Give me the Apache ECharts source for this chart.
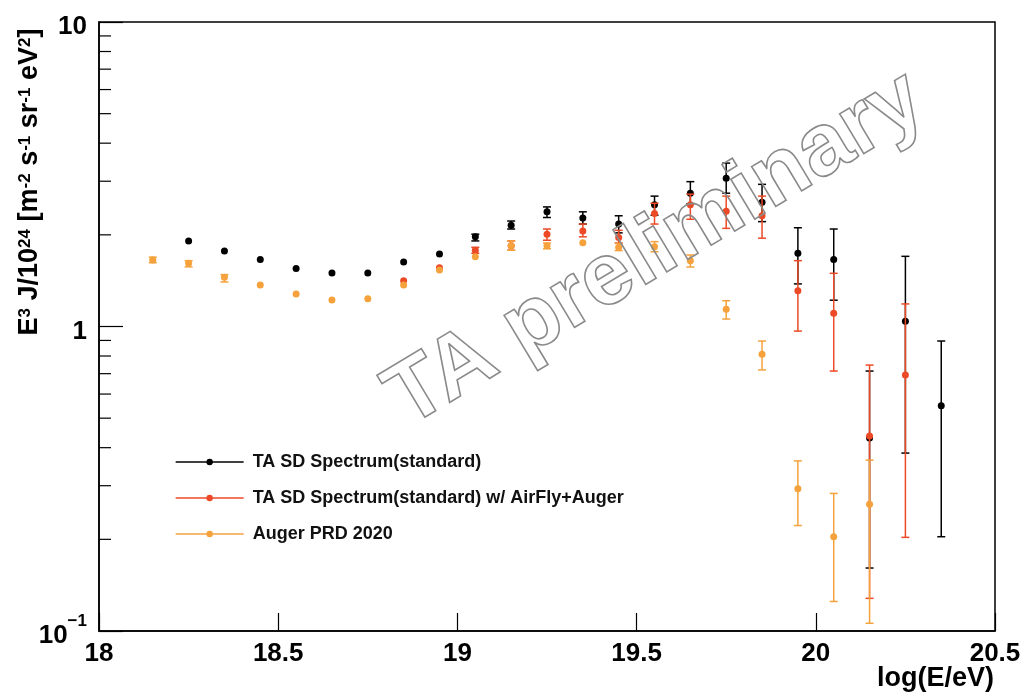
<!DOCTYPE html>
<html>
<head>
<meta charset="utf-8">
<style>
  html, body { margin: 0; padding: 0; background: #fff; }
  #chart { width: 1024px; height: 693px; }
</style>
<script src="https://cdn.jsdelivr.net/npm/echarts@6/dist/echarts.min.js"></script>
</head>
<body>
<div id="chart"></div>
<script>
// TA SD spectrum (standard energy scale)
const taX  = [18.25, 18.35, 18.45, 18.55, 18.65, 18.75, 18.85, 18.95, 19.05, 19.15, 19.25,
              19.35, 19.45, 19.55, 19.65, 19.75, 19.85, 19.95, 20.05, 20.15, 20.25, 20.35];
const taY  = [1.91, 1.77, 1.66, 1.55, 1.50, 1.50, 1.63, 1.73, 1.97, 2.15, 2.38,
              2.27, 2.17, 2.51, 2.74, 3.07, 2.56, 1.74, 1.66, 0.43, 1.04, 0.549];
const taLo = [1.90, 1.76, 1.65, 1.54, 1.49, 1.49, 1.62, 1.72, 1.91, 2.09, 2.28,
              2.17, 2.03, 2.32, 2.53, 2.74, 2.21, 1.38, 1.22, 0.161, 0.384, 0.204];
const taHi = [1.92, 1.78, 1.67, 1.56, 1.51, 1.51, 1.64, 1.74, 2.01, 2.22, 2.47,
              2.38, 2.31, 2.68, 2.99, 3.44, 2.93, 2.11, 2.09, 0.714, 1.70, 0.896];

// TA SD spectrum rescaled with AirFly yield + Auger invisible energy
const afX  = [18.85, 18.95, 19.05, 19.15, 19.25, 19.35, 19.45, 19.55, 19.65, 19.75,
              19.85, 19.95, 20.05, 20.15, 20.25];
const afY  = [1.414, 1.56, 1.78, 1.84, 2.01, 2.06, 1.96, 2.35, 2.51, 2.39,
              2.31, 1.31, 1.105, 0.437, 0.693];
const afLo = [1.40, 1.54, 1.74, 1.78, 1.92, 1.97, 1.88, 2.17, 2.25, 2.10,
              1.95, 0.966, 0.714, 0.128, 0.203];
const afHi = [1.43, 1.58, 1.82, 1.91, 2.09, 2.17, 2.07, 2.54, 2.72, 2.68,
              2.68, 1.645, 1.495, 0.747, 1.186];

// Auger PRD 2020
const auX  = [18.15, 18.25, 18.35, 18.45, 18.55, 18.65, 18.75, 18.85, 18.95, 19.05, 19.15,
              19.25, 19.35, 19.45, 19.55, 19.65, 19.75, 19.85, 19.95, 20.05, 20.15];
const auY  = [1.654, 1.613, 1.45, 1.369, 1.278, 1.222, 1.234, 1.369, 1.533, 1.695, 1.84,
              1.84, 1.885, 1.82, 1.828, 1.645, 1.139, 0.81, 0.293, 0.204, 0.261];
const auLo = [1.62, 1.57, 1.40, 1.355, 1.265, 1.21, 1.22, 1.355, 1.515, 1.67, 1.78,
              1.80, 1.86, 1.775, 1.76, 1.568, 1.058, 0.72, 0.222, 0.125, 0.106];
const auHi = [1.69, 1.645, 1.48, 1.383, 1.29, 1.234, 1.248, 1.383, 1.55, 1.72, 1.91,
              1.88, 1.91, 1.875, 1.90, 1.717, 1.215, 0.896, 0.362, 0.283, 0.364];

const seriesNames = ['TA SD Spectrum(standard)', 'TA SD Spectrum(standard) w/ AirFly+Auger', 'Auger PRD 2020'];
const seriesColors = ['#000000', '#ec4a26', '#f5a23c'];

// log-axis minor tick positions
const yMinorTicks = [0.2, 0.3, 0.4, 0.5, 0.6, 0.7, 0.8, 0.9, 2, 3, 4, 5, 6, 7, 8, 9];

const FONT = '"Liberation Sans", Arial, Helvetica, sans-serif';
const MARKER = 7;

function points(xs, ys) { return xs.map((x, i) => [x, ys[i]]); }
function bars(xs, lo, hi) { return xs.map((x, i) => [x, lo[i], hi[i]]); }

// Vertical error bar with end caps; bars hidden inside the marker are skipped.
function errorBarRender(color) {
  return function (params, api) {
    const x = api.value(0);
    const top = api.coord([x, api.value(2)]);
    const bot = api.coord([x, api.value(1)]);
    if (bot[1] - top[1] < 4) return null;
    const cap = 4;
    const st = { stroke: color, lineWidth: 1.5 };
    return {
      type: 'group',
      children: [
        { type: 'line', shape: { x1: top[0], y1: top[1], x2: bot[0], y2: bot[1] }, style: st },
        { type: 'line', shape: { x1: top[0] - cap, y1: top[1], x2: top[0] + cap, y2: top[1] }, style: st },
        { type: 'line', shape: { x1: bot[0] - cap, y1: bot[1], x2: bot[0] + cap, y2: bot[1] }, style: st }
      ]
    };
  };
}

function errSeries(xs, lo, hi, color, z) {
  return {
    type: 'custom', z: z, silent: true,
    renderItem: errorBarRender(color),
    encode: { x: 0, y: [1, 2] },
    data: bars(xs, lo, hi)
  };
}

function pointSeries(name, xs, ys, color, z) {
  return {
    name: name, type: 'line', z: z,
    data: points(xs, ys),
    symbol: 'circle', symbolSize: MARKER, showSymbol: true,
    itemStyle: { color: color },
    lineStyle: { color: color, opacity: 0, width: 0 },
    animation: false
  };
}

const chart = echarts.init(document.getElementById('chart'), null, { renderer: 'canvas' });

const option = {
  animation: false,
  backgroundColor: '#ffffff',
  grid: {
    left: 99, right: 29, top: 22, bottom: 62,
    containLabel: false, outerBoundsMode: 'none',
    show: true, borderColor: '#000', borderWidth: 1.5, backgroundColor: 'transparent'
  },
  legend: {
    orient: 'vertical', left: 170, top: 448, itemGap: 18,
    itemWidth: 68, itemHeight: 8,
    data: seriesNames,
    lineStyle: { opacity: 1, width: 1.3 },
    textStyle: { fontFamily: FONT, fontWeight: 'bold', fontSize: 18, color: '#111', padding: [0, 0, 0, 4] }
  },
  xAxis: {
    type: 'value', min: 18, max: 20.5, interval: 0.5,
    axisLine: { show: true, lineStyle: { color: '#000', width: 1.5 } },
    axisTick: { show: true, inside: true, length: 18, lineStyle: { color: '#000', width: 1.2 } },
    splitLine: { show: false },
    axisLabel: {
      fontFamily: FONT, fontWeight: 'bold', fontSize: 26, color: '#000', margin: 10,
      showMinLabel: true, showMaxLabel: true,
      formatter: v => String(v)
    }
  },
  yAxis: {
    type: 'log', logBase: 10, min: 0.1, max: 10,
    axisLine: { show: true, lineStyle: { color: '#000', width: 1.5 } },
    axisTick: { show: true, inside: true, length: 24, lineStyle: { color: '#000', width: 1.2 } },
    minorTick: { show: false },
    splitLine: { show: false },
    axisLabel: {
      margin: 12, color: '#000',
      formatter: function (v) {
        const e = Math.round(Math.log10(v));
        if (e < 0) return '{b|10}{s|\u2212' + (-e) + '}';
        return '{b|' + Math.pow(10, e) + '}';
      },
      rich: {
        b: { fontFamily: FONT, fontWeight: 'bold', fontSize: 26, color: '#000', verticalAlign: 'bottom', lineHeight: 36 },
        s: { fontFamily: FONT, fontWeight: 'bold', fontSize: 17, color: '#000', verticalAlign: 'top', lineHeight: 14 }
      }
    }
  },
  graphic: [
    {
      // y-axis title
      type: 'text', x: 30, y: 182, rotation: Math.PI / 2, z: 10,
      style: {
        text: '{b|E}{s|3}{b| J/10}{s|24}{b| [m}{s|-2}{b| s}{s|-1}{b| sr}{s|-1}{b| eV}{s|2}{b|]}',
        align: 'center', verticalAlign: 'middle',
        rich: {
          b: { fontFamily: FONT, fontWeight: 'bold', fontSize: 27, fill: '#000', verticalAlign: 'bottom', lineHeight: 27 },
          s: { fontFamily: FONT, fontWeight: 'bold', fontSize: 17, fill: '#000', verticalAlign: 'top', lineHeight: 12 }
        }
      }
    },
    {
      // x-axis title
      type: 'text', x: 994, y: 679, z: 10,
      style: {
        text: 'log(E/eV)', fontFamily: FONT, fontWeight: 'bold', fontSize: 27, fill: '#000',
        align: 'right', verticalAlign: 'middle'
      }
    },
    {
      type: 'text', x: 656, y: 250, rotation: 31 * Math.PI / 180, z: 100, silent: true,
      style: {
        text: 'TA preliminary',
        font: 'bold 88px ' + FONT,
        align: 'center', verticalAlign: 'middle',
        fill: 'none', stroke: '#8a8a8a', lineWidth: 1.6, lineJoin: 'round'
      }
    }
  ],
  series: [
    {
      type: 'custom', z: 1, silent: true,
      renderItem: function (params, api) {
        const p = api.coord([18, api.value(0)]);
        return {
          type: 'line',
          shape: { x1: p[0], y1: p[1], x2: p[0] + 12, y2: p[1] },
          style: { stroke: '#000', lineWidth: 1.2 }
        };
      },
      encode: { y: 0 },
      data: yMinorTicks.map(v => [v])
    },
    errSeries(taX, taLo, taHi, seriesColors[0], 2),
    pointSeries(seriesNames[0], taX, taY, seriesColors[0], 3),
    errSeries(afX, afLo, afHi, seriesColors[1], 4),
    pointSeries(seriesNames[1], afX, afY, seriesColors[1], 5),
    errSeries(auX, auLo, auHi, seriesColors[2], 6),
    pointSeries(seriesNames[2], auX, auY, seriesColors[2], 7)
  ]
};

chart.setOption(option);
</script>
</body>
</html>
